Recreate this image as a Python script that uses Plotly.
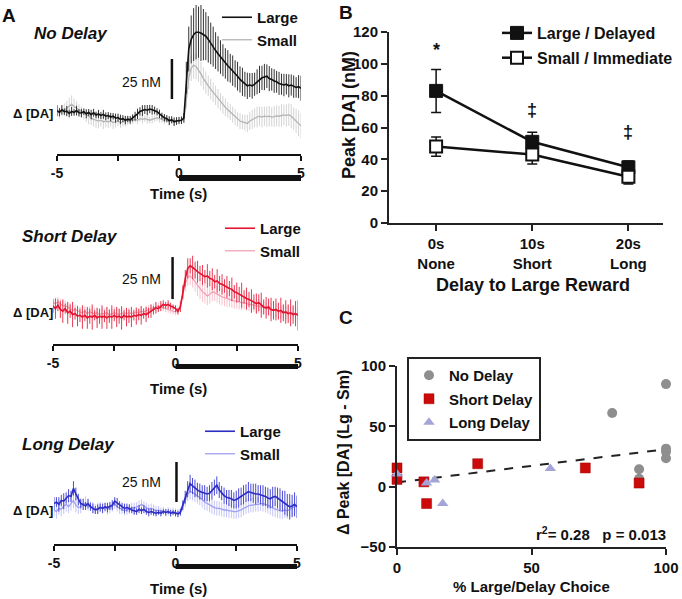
import numpy as np
import plotly.graph_objects as go

W, H = 682, 599
FONT = "Liberation Sans, Arial, sans-serif"

# ---- Panel A: mean Δ[DA] (nM) and SEM, sampled at 10 Hz from -5 to 5 s ----
time_s = np.round(np.arange(-50, 51) / 10, 1)

no_delay_large = [
    1.5, 0.5, 2.0, 0.8, 1.2, -0.3, 1.0, 0.4, 1.5, 0.2, 0.0,
    0.8, -0.5, 0.3, -1.0, 0.2, -1.2, -0.6, -1.5, -0.8, -2.0,
    -1.6, -2.5, -2.0, -3.2, -2.8, -4.0, -3.5, -4.5, -3.8, -4.2,
    -3.0, -2.0, -0.5, 1.0, 1.5, 2.2, 1.8, 2.5, 2.0, 1.6,
    0.8, -0.5, -1.8, -3.0, -3.5, -4.8, -4.2, -5.5, -5.0, -4.6,
    -4.5, -3.0, 22.0, 40.0, 46.0, 49.0, 50.5, 50.5, 50.0, 49.0,
    48.0, 46.0, 43.5, 41.5, 39.0, 37.0, 35.0, 33.0, 31.0, 29.5,
    28.0, 26.5, 24.5, 23.0, 21.0, 19.5, 18.0, 17.0, 17.5, 17.0,
    18.0, 19.5, 21.0, 22.0, 22.5, 23.0, 21.5, 21.0, 20.0, 19.5,
    18.5, 18.0, 17.5, 18.0, 17.0, 17.5, 16.5, 16.0, 16.5, 15.5]
no_delay_large_sem = [
    3.5, 2.5, 3.0, 2.0, 3.2, 2.4, 2.8, 2.0, 3.0, 2.2, 2.6,
    2.0, 2.8, 2.2, 3.0, 2.4, 2.0, 2.6, 2.2, 2.8, 2.4,
    2.2, 2.6, 2.0, 2.8, 2.4, 3.0, 2.2, 2.6, 2.0, 2.4,
    2.2, 2.8, 3.2, 2.6, 3.4, 2.8, 3.2, 2.6, 3.0, 2.4,
    2.2, 2.6, 2.0, 2.4, 2.2, 2.8, 2.2, 2.6, 2.4, 2.2,
    2.4, 3.0, 10.0, 14.0, 15.0, 16.5, 17.0, 16.0, 17.5, 16.0,
    15.0, 14.5, 13.0, 12.5, 11.5, 11.0, 10.5, 10.0, 9.5, 9.8,
    9.0, 9.5, 8.5, 9.0, 8.2, 8.8, 7.8, 8.2, 7.5, 8.0,
    7.2, 7.8, 8.5, 7.6, 8.2, 7.4, 7.8, 7.0, 7.4, 6.8,
    7.2, 6.6, 7.0, 6.4, 7.2, 6.6, 7.0, 6.4, 7.2, 7.8]
no_delay_small = [
    1.0, 0.0, 1.5, 2.0, 3.0, 4.5, 5.5, 4.0, 3.0, 1.5, 0.5,
    -0.5, -1.5, -2.5, -3.5, -4.0, -4.5, -5.0, -4.5, -5.5, -5.0,
    -5.5, -5.0, -6.0, -5.5, -5.0, -6.0, -5.5, -5.0, -4.5, -5.0,
    -4.5, -4.0, -4.5, -3.5, -4.0, -3.5, -4.0, -4.5, -4.0, -3.5,
    -3.0, -3.5, -4.0, -4.5, -4.0, -5.0, -4.5, -5.0, -4.5, -5.0,
    -4.5, -4.0, 8.0, 22.0, 28.0, 30.0, 29.0, 27.0, 24.5, 21.5,
    19.0, 17.0, 15.0, 13.0, 11.0, 9.0, 7.0, 5.0, 3.5, 2.0,
    0.5, -1.0, -2.5, -4.0, -5.0, -5.5, -6.0, -6.5, -5.0, -4.0,
    -3.0, -2.5, -2.0, -2.5, -2.0, -2.3, -2.0, -2.5, -2.2, -1.8,
    -2.0, -1.5, -1.2, -1.5, -1.0, -2.0, -3.5, -5.0, -6.5, -8.0]
no_delay_small_sem = [
    3.0, 3.5, 3.0, 4.0, 4.5, 5.0, 5.5, 5.0, 4.5, 4.0, 3.5,
    3.5, 4.0, 4.5, 4.0, 4.5, 5.0, 4.5, 4.0, 4.5, 4.0,
    4.0, 3.5, 4.0, 3.5, 3.0, 3.5, 3.0, 3.5, 3.0, 2.5,
    2.5, 2.0, 2.5, 2.0, 2.5, 2.0, 2.5, 2.0, 2.5, 2.0,
    2.0, 2.5, 2.0, 2.5, 2.0, 2.5, 2.0, 2.5, 2.0, 2.0,
    2.0, 2.5, 5.0, 7.0, 8.0, 8.5, 8.0, 7.5, 7.5, 7.0,
    7.0, 6.5, 6.5, 6.0, 6.0, 6.0, 5.5, 5.5, 5.5, 5.0,
    5.0, 5.0, 5.0, 4.5, 5.0, 4.5, 5.0, 5.5, 5.5, 6.0,
    6.0, 6.5, 6.0, 6.5, 6.0, 6.5, 6.5, 6.0, 6.5, 6.5,
    6.5, 7.0, 6.5, 7.0, 7.0, 7.5, 7.0, 7.5, 8.0, 8.0]

short_delay_large = [
    3.5, 2.0, 4.0, 1.5, 0.5, 2.0, -0.5, 0.5, -1.5, -1.0, -2.5,
    -2.0, -3.0, -2.0, -3.5, -2.5, -3.0, -2.0, -3.5, -2.5, -3.0,
    -2.5, -3.5, -2.5, -3.0, -2.0, -3.0, -2.5, -3.5, -2.0, -3.0,
    -2.5, -3.0, -2.0, -2.5, -1.5, -2.0, -1.0, -1.5, -0.5, 0.5,
    1.0, 2.5, 2.0, 3.5, 4.5, 4.0, 4.5, 3.5, 3.0, 2.0,
    0.5, 3.0, 12.0, 20.0, 26.0, 27.5, 26.5, 25.0, 24.0, 23.0,
    22.0, 21.0, 21.5, 20.0, 19.5, 18.0, 18.5, 17.0, 16.5, 15.5,
    15.0, 14.0, 13.5, 12.0, 11.5, 10.5, 10.0, 9.0, 8.0, 7.5,
    6.5, 6.0, 5.0, 5.5, 4.0, 3.0, 2.5, 3.0, 1.5, 1.0,
    1.5, 0.5, 1.0, -0.5, 0.0, -1.0, -0.5, -1.5, -1.0, -2.0]
short_delay_large_sem = [
    4.0, 6.0, 3.5, 5.0, 7.0, 3.0, 6.5, 4.0, 7.5, 3.5, 6.0,
    4.0, 7.0, 3.5, 6.5, 4.5, 7.5, 3.0, 6.0, 4.5, 7.0,
    3.5, 6.5, 4.0, 7.0, 3.5, 6.0, 4.5, 7.0, 3.0, 5.5,
    4.0, 6.0, 3.0, 5.0, 3.5, 5.5, 3.0, 4.5, 3.0, 4.0,
    2.5, 3.5, 2.0, 3.0, 2.5, 2.0, 2.5, 2.0, 1.5, 2.0,
    2.0, 3.0, 4.0, 5.0, 6.0, 4.5, 7.0, 5.0, 6.5, 4.5,
    6.0, 4.0, 7.0, 4.5, 6.5, 4.0, 7.0, 4.5, 6.0, 4.0,
    6.5, 4.5, 7.0, 4.0, 6.0, 4.5, 7.5, 4.0, 6.5, 4.5,
    7.0, 4.5, 6.0, 5.0, 7.5, 4.5, 6.5, 5.0, 7.0, 5.5,
    6.5, 5.0, 7.5, 5.0, 7.0, 5.5, 8.0, 5.5, 7.5, 9.0]
short_delay_small = [
    5.5, 5.0, 6.0, 4.5, 4.0, 3.5, 3.0, 2.0, 1.0, 1.5, 0.5,
    0.0, -0.5, 0.5, -1.0, 0.0, -0.5, -1.0, -0.5, -1.5, -1.0,
    -1.0, -0.5, -1.5, -1.0, -0.5, -1.0, -1.5, -1.0, -0.5, -1.0,
    -0.5, -1.0, -0.5, 0.0, -0.5, 0.5, 0.0, 1.0, 1.5, 2.0,
    2.5, 3.0, 3.5, 3.0, 2.5, 2.0, 1.5, 1.0, 0.5, 0.0,
    0.5, 4.0, 11.0, 17.0, 20.5, 21.5, 20.0, 18.0, 15.5, 13.5,
    12.0, 11.0, 9.5, 10.5, 12.0, 11.5, 10.5, 9.5, 9.0, 8.5,
    8.0, 7.5, 7.0, 6.5, 6.5, 6.0, 5.5, 5.5, 5.0, 4.5,
    4.5, 4.0, 3.5, 3.5, 3.0, 2.5, 2.0, 2.0, 1.5, 1.0,
    1.0, 0.5, 0.0, 0.5, -0.5, 0.0, -1.0, -0.5, -1.0, -1.0]
short_delay_small_sem = [
    3.0, 3.5, 3.0, 3.5, 3.0, 3.5, 3.0, 3.5, 3.0, 3.0, 3.5,
    3.0, 3.5, 3.0, 3.0, 3.5, 3.0, 3.5, 3.0, 3.0, 3.5,
    3.0, 3.5, 3.0, 3.0, 3.5, 3.0, 3.0, 3.5, 3.0, 3.0,
    3.0, 3.0, 2.5, 3.0, 2.5, 3.0, 2.5, 3.0, 2.5, 2.5,
    2.5, 2.5, 2.0, 2.5, 2.0, 2.0, 2.0, 2.0, 2.0, 2.0,
    2.0, 3.0, 4.0, 5.0, 5.0, 5.5, 5.5, 6.0, 6.0, 6.0,
    6.0, 6.0, 5.5, 5.5, 5.5, 5.0, 5.0, 5.0, 5.0, 5.0,
    5.0, 4.5, 4.5, 4.5, 4.5, 4.5, 4.5, 4.0, 4.0, 4.0,
    4.0, 4.0, 4.0, 4.0, 4.0, 4.0, 4.0, 4.0, 4.0, 4.0,
    4.0, 4.0, 4.0, 4.0, 4.0, 4.0, 4.0, 4.0, 4.0, 4.0]

long_delay_large = [
    4.0, 5.0, 3.5, 6.0, 5.5, 7.5, 9.0, 8.5, 13.5, 10.0, 6.5,
    4.0, 3.5, 2.5, 4.0, 2.0, 1.0, 0.0, 0.5, 1.5, 1.0,
    2.0, 1.5, 2.5, 3.0, 5.5, 4.5, 3.0, 2.0, 1.0, 1.5,
    1.0, 0.0, -0.5, -1.0, 0.5, -0.5, 0.5, -1.0, -1.5, -1.0,
    -1.5, -2.0, -1.5, -2.0, -1.0, -1.5, -1.0, -2.0, -1.5, -2.0,
    -2.5, -1.5, 3.0, 8.0, 13.0, 16.5, 15.0, 13.5, 12.5, 11.5,
    11.0, 10.5, 10.0, 10.5, 12.0, 14.0, 15.5, 12.5, 10.5, 9.0,
    8.0, 7.5, 7.0, 6.0, 6.5, 7.5, 8.5, 9.5, 10.5, 11.5,
    11.0, 10.5, 10.0, 10.0, 9.5, 9.0, 8.5, 7.5, 7.0, 8.0,
    8.5, 7.5, 6.5, 5.5, 4.5, 3.0, 2.0, 2.5, 3.5, 2.0]
long_delay_large_sem = [
    4.0, 3.0, 4.5, 3.5, 5.0, 3.5, 4.0, 3.5, 4.5, 4.0, 3.5,
    3.0, 3.5, 2.5, 3.0, 2.5, 3.0, 2.5, 3.0, 2.5, 3.0,
    2.5, 3.0, 2.5, 3.0, 2.5, 3.0, 2.5, 2.5, 3.0, 2.5,
    2.5, 2.0, 2.5, 2.0, 2.5, 2.0, 2.5, 2.0, 2.5, 2.0,
    2.0, 2.0, 1.5, 2.0, 1.5, 2.0, 1.5, 2.0, 1.5, 2.0,
    2.0, 2.0, 3.0, 4.0, 5.0, 5.5, 5.0, 5.5, 4.5, 5.0,
    4.5, 5.0, 4.5, 5.0, 5.5, 5.0, 5.5, 5.0, 4.5, 5.0,
    4.5, 5.0, 5.5, 5.0, 5.5, 6.0, 5.5, 6.0, 5.5, 6.0,
    5.5, 6.0, 6.5, 5.5, 6.0, 6.5, 6.0, 6.5, 6.0, 6.5,
    6.0, 6.5, 7.0, 6.5, 7.5, 7.0, 8.0, 7.0, 7.5, 7.0]
long_delay_small = [
    0.0, -1.0, 1.0, 0.5, 2.5, 3.5, 2.0, 4.0, 6.0, 3.0, 1.5,
    2.0, 3.5, 4.5, 3.0, 2.5, 1.5, 0.5, 1.0, 2.0, 1.0,
    1.5, 0.5, 1.0, 2.5, 3.5, 2.0, 1.0, 0.5, -0.5, 0.0,
    0.5, 1.5, 1.0, 2.0, 2.5, 3.5, 2.5, 1.5, 0.5, 1.0,
    0.5, -0.5, 0.0, -1.0, -0.5, -1.5, -1.0, -1.5, -1.0, -1.5,
    -2.0, -1.0, 2.0, 6.0, 10.0, 11.5, 11.0, 10.0, 9.0, 8.0,
    6.5, 5.0, 4.0, 3.0, 2.0, 1.5, 1.0, 1.0, 0.5, 0.0,
    0.0, -0.5, -0.5, -1.0, -1.0, -0.5, 0.0, 1.0, 2.0, 2.5,
    3.0, 3.0, 3.5, 3.5, 4.0, 4.0, 3.5, 3.0, 2.0, 1.0,
    0.5, 0.0, -0.5, -0.5, 0.0, -0.5, 0.5, 1.0, 2.0, 3.0]
long_delay_small_sem = [
    4.0, 4.5, 4.0, 4.5, 5.0, 4.5, 4.0, 4.5, 5.0, 4.5, 4.0,
    4.0, 3.5, 4.0, 3.5, 3.0, 3.5, 3.0, 3.5, 3.0, 3.0,
    3.0, 3.5, 3.0, 3.5, 3.0, 3.0, 3.5, 3.0, 3.0, 3.0,
    3.0, 3.0, 3.5, 3.0, 3.5, 3.0, 3.0, 3.0, 3.0, 3.0,
    3.0, 3.0, 2.5, 2.5, 2.5, 2.5, 2.5, 2.5, 2.5, 2.5,
    2.5, 2.5, 3.0, 4.0, 4.5, 5.0, 5.0, 5.0, 5.0, 5.0,
    5.0, 5.0, 4.5, 4.5, 4.5, 4.5, 4.5, 4.5, 4.5, 4.5,
    4.5, 4.5, 4.5, 4.5, 4.5, 4.5, 4.5, 4.5, 4.5, 4.5,
    4.5, 4.5, 4.5, 4.5, 4.5, 5.0, 5.0, 5.0, 5.0, 5.0,
    5.0, 5.0, 5.0, 5.0, 5.0, 5.0, 5.0, 5.0, 5.0, 5.0]

# ---- Panel B: peak [DA] by delay condition ----
delay_pos = [0, 1, 2]
delay_labels = ["0s<br>None", "10s<br>Short", "20s<br>Long"]
peak_large = [83, 51, 35]
peak_large_sem = [13.5, 6, 4]
peak_small = [48, 43, 29]
peak_small_sem = [6, 6, 4.5]
sig_marks = ["*", "‡", "‡"]
sig_heights = [109, 71, 57]

# ---- Panel C: Δ peak vs choice ----
no_choice = [80, 100, 100, 100, 100, 90, 90]
no_dpeak = [61, 85, 31.5, 29, 23.5, 14.5, 6.5]
short_choice = [0, 0, 10, 11, 30, 70, 90]
short_dpeak = [15.5, 6, 4, -14, 19, 15.5, 3]
long_choice = [0, 11, 14, 17, 57]
long_dpeak = [10.5, 3, 5.5, -14, 15]
fit_x = [0, 100]
fit_y = [3.5, 31]


def px(x):
    return x / W


def py(y):
    return 1 - y / H


fig = go.Figure()

panels = [
    ("", no_delay_small, no_delay_small_sem, no_delay_large, no_delay_large_sem,
     "#b4b4b4", "#d4d4d4", "#111111", "#333333", "legend"),
    ("2", short_delay_small, short_delay_small_sem, short_delay_large, short_delay_large_sem,
     "#f2a3b4", "#f7c4cf", "#e3132f", "#e53a52", "legend2"),
    ("3", long_delay_small, long_delay_small_sem, long_delay_large, long_delay_large_sem,
     "#a0a0f0", "#c6c6f6", "#2c2cc4", "#4a4ad2", "legend3"),
]
for sfx, sm, sm_e, lg, lg_e, c_sm, ce_sm, c_lg, ce_lg, legname in panels:
    fig.add_trace(go.Scatter(
        x=time_s, y=sm, mode="lines", name="Small", legend=legname,
        legendgroup="s" + sfx, legendrank=2,
        line=dict(color=c_sm, width=1.3),
        error_y=dict(type="data", array=sm_e, color=ce_sm, thickness=1, width=0),
        xaxis="x" + sfx, yaxis="y" + sfx))
    fig.add_trace(go.Scatter(
        x=time_s, y=lg, mode="lines", name="Large", legend=legname,
        legendgroup="l" + sfx, legendrank=1,
        line=dict(color=c_lg, width=1.6),
        error_y=dict(type="data", array=lg_e, color=ce_lg, thickness=1, width=0),
        xaxis="x" + sfx, yaxis="y" + sfx))

# panel B
fig.add_trace(go.Scatter(
    x=delay_pos, y=peak_large, mode="lines+markers", name="Large / Delayed",
    legend="legend4", legendgroup="bl", legendrank=1,
    line=dict(color="#111", width=2.5),
    marker=dict(symbol="square", size=13, color="#111", line=dict(color="#111", width=1)),
    error_y=dict(type="data", array=peak_large_sem, color="#111", thickness=1.5, width=5),
    xaxis="x4", yaxis="y4"))
fig.add_trace(go.Scatter(
    x=delay_pos, y=peak_small, mode="lines+markers", name="Small / Immediate",
    legend="legend4", legendgroup="bs", legendrank=2,
    line=dict(color="#111", width=2.5),
    marker=dict(symbol="square", size=12, color="white", line=dict(color="#111", width=2)),
    error_y=dict(type="data", array=peak_small_sem, color="#111", thickness=1.5, width=5),
    xaxis="x4", yaxis="y4"))

# panel C
fig.add_trace(go.Scatter(
    x=fit_x, y=fit_y, mode="lines", showlegend=False,
    line=dict(color="#222", width=2, dash="dash"), xaxis="x5", yaxis="y5"))
fig.add_trace(go.Scatter(
    x=no_choice, y=no_dpeak, mode="markers", name="No Delay", legend="legend5",
    legendgroup="cn", marker=dict(symbol="circle", size=10, color="#8e8e8e"),
    cliponaxis=False, xaxis="x5", yaxis="y5"))
fig.add_trace(go.Scatter(
    x=short_choice, y=short_dpeak, mode="markers", name="Short Delay", legend="legend5",
    legendgroup="cs", marker=dict(symbol="square", size=10, color="#cc0a0a",
                                  line=dict(color="#a00000", width=0.5)),
    cliponaxis=False, xaxis="x5", yaxis="y5"))
fig.add_trace(go.Scatter(
    x=long_choice, y=long_dpeak, mode="markers", name="Long Delay", legend="legend5",
    legendgroup="ct", marker=dict(symbol="triangle-up", size=10, color="#a4a4d8"),
    cliponaxis=False, xaxis="x5", yaxis="y5"))


def time_axis(x0, x1, yname):
    return dict(domain=[px(x0), px(x1)], range=[-5, 5], anchor=yname, automargin=False,
                showline=True, linecolor="#111", linewidth=1.5,
                ticks="outside", ticklen=5, tickwidth=1.5, tickcolor="#111",
                tickvals=[-5, -2.5, 0, 2.5, 5], ticktext=["-5", "", "0", "", "5"],
                tickfont=dict(family=FONT, size=14, color="#111", weight="bold"),
                showgrid=False, zeroline=False)


def trace_yaxis(ybot, ytop, rng, xname):
    return dict(domain=[py(ybot), py(ytop)], range=rng, anchor=xname, visible=False,
                automargin=False)


def leg(x, y, size=15, **kw):
    d = dict(x=px(x), y=py(y), xanchor="left", yanchor="top", bgcolor="rgba(0,0,0,0)",
             font=dict(family=FONT, size=size, color="#111", weight="bold"),
             tracegroupgap=0, itemwidth=30)
    d.update(kw)
    return d


axis_font = dict(family=FONT, size=15, color="#111", weight="bold")
frame_axis = dict(showline=True, linecolor="#222", linewidth=2, automargin=False,
                  ticks="outside", ticklen=6, tickwidth=2, tickcolor="#222",
                  tickfont=axis_font, showgrid=False, zeroline=False)

layout = dict(
    width=W, height=H, margin=dict(l=0, r=0, t=0, b=0, autoexpand=False),
    paper_bgcolor="white", plot_bgcolor="rgba(0,0,0,0)",
    font=dict(family=FONT, color="#111"),
    xaxis=time_axis(57, 301, "y"),
    yaxis=trace_yaxis(154, 3, [-25.6, 68.75], "x"),
    xaxis2=time_axis(53, 298, "y2"),
    yaxis2=trace_yaxis(344, 205, [-19.05, 63.7], "x2"),
    xaxis3=time_axis(54, 297, "y3"),
    yaxis3=trace_yaxis(544, 405, [-21.25, 65.6], "x3"),
    xaxis4=dict(frame_axis, domain=[px(389), px(663)], range=[-0.49, 2.36], anchor="y4",
                tickvals=delay_pos, ticktext=delay_labels),
    yaxis4=dict(frame_axis, domain=[py(223), py(32)], range=[0, 120], anchor="x4",
                tickvals=[0, 20, 40, 60, 80, 100, 120]),
    xaxis5=dict(frame_axis, domain=[px(397), px(666)], range=[0, 100], anchor="y5",
                tickvals=[0, 50, 100]),
    yaxis5=dict(frame_axis, domain=[py(547), py(366)], range=[-50, 100], anchor="x5",
                tickvals=[-50, 0, 50, 100]),
    legend=leg(217, 1),
    legend2=leg(220, 212),
    legend3=leg(200, 415),
    legend4=leg(497, 16, size=16, tracegroupgap=1),
    legend5=leg(407, 357, size=15, tracegroupgap=1, bordercolor="#222", borderwidth=2),
    showlegend=True,
)
fig.update_layout(**layout)

shapes = []
annotations = []


def note(text, x, y, size, angle=0, xanchor="center"):
    annotations.append(dict(text=text, x=px(x), y=py(y), xref="paper", yref="paper",
                            xanchor=xanchor, yanchor="middle", textangle=angle,
                            showarrow=False, font=dict(family=FONT, size=size, color="#111")))


# panel A decorations: scale bars, reward bars, labels
a_specs = [
    # xaxis, yaxis, scale-bar t, scale-bar y0, reward bar top/bottom px, baseline px,
    # title, title x, title y, time-label y, "25 nM" y
    ("x", "y", -0.29, 8.75, 175, 181, 113, "No Delay", 32, 33, 193, 82),
    ("x2", "y2", -0.12, 7.7, 364, 369, 312, "Short Delay", 20, 237, 388, 279),
    ("x3", "y3", 0.04, 5.0, 564, 569, 510, "Long Delay", 20, 444, 588, 482),
]
for (xa, ya, sb_t, sb_y0, bar_top, bar_bot, base_y, title, title_x, title_y,
     time_y, nm_y) in a_specs:
    shapes.append(dict(type="line", xref=xa, yref=ya, x0=sb_t, x1=sb_t,
                       y0=sb_y0, y1=sb_y0 + 25, line=dict(color="#111", width=2.5)))
    shapes.append(dict(type="rect", xref=xa, yref="paper", x0=0, x1=5,
                       y0=py(bar_bot), y1=py(bar_top), fillcolor="#111",
                       line=dict(width=0)))
    note("<b><i>%s</i></b>" % title, title_x, title_y, 17, xanchor="left")
    note("<b>Δ [DA]</b>", 55, base_y, 13, xanchor="right")
    note("<b>Time (s)</b>", 178, time_y, 15)
    note("25 nM", 163, nm_y, 14, xanchor="right")

# panel letters
for letter, lx, ly in [("A", 9, 15), ("B", 346, 12), ("C", 346, 317)]:
    note("<b>%s</b>" % letter, lx, ly, 19)

# panel B labels
for pos, mark, h in zip(delay_pos, sig_marks, sig_heights):
    annotations.append(dict(text="<b>%s</b>" % mark, x=pos, y=h, xref="x4", yref="y4",
                            xanchor="center", yanchor="middle", showarrow=False,
                            font=dict(family=FONT, size=18, color="#111")))
note("<b>Peak [DA] (nM)</b>", 349, 115, 18, angle=-90)
note("<b>Delay to Large Reward</b>", 533, 285, 18)

# panel C labels
note("<b>Δ Peak [DA] (Lg - Sm)</b>", 343, 453, 16, angle=-90)
note("<b>% Large/Delay Choice</b>", 531, 586, 15)
note("<b>r<sup>2</sup>= 0.28   p = 0.013</b>", 601, 533, 15)

fig.update_layout(shapes=shapes, annotations=annotations)

# the page body keeps the browser's default 8px margin otherwise
fig.write_html("out.html", config={"displayModeBar": False},
               post_script="document.body.style.margin = '0px';")
